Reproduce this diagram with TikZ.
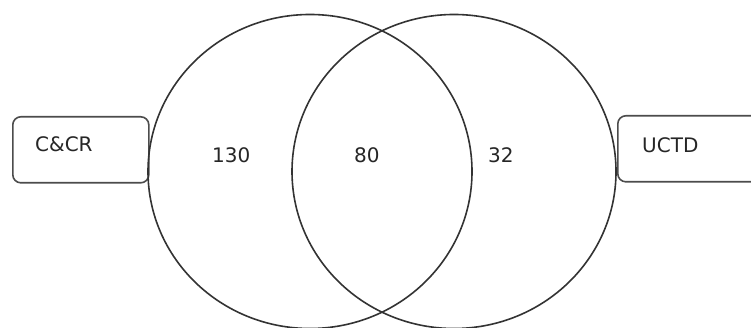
\documentclass[tikz,border=0pt]{standalone}
\usepackage{fontspec}
\setmainfont{DejaVu Sans}
\begin{document}
\begin{tikzpicture}[x=1pt,y=-1pt,
  ring/.style={draw=black!80,line width=1.6pt},
  tagbox/.style={draw=black!70,line width=1.6pt,rounded corners=8pt,minimum width=#1,minimum height=66pt,inner sep=0pt,anchor=north west},
  lbl/.style={font=\fontsize{20}{24}\selectfont,anchor=base west,inner sep=0pt,text=black!85}]
\useasboundingbox (0,0) rectangle (751,328);
\clip (0,0) rectangle (751,328);
\fill[white] (0,0) rectangle (751,328);
\node[tagbox=136pt] (leftbox) at (12,116) {};
\node[tagbox=160pt] (rightbox) at (617,115) {};
\draw[ring] (310,171.5) ellipse [x radius=162, y radius=157];
\draw[ring] (454,171.5) ellipse [x radius=162, y radius=157];
\node[lbl] (ccr) at (35,152) {C\&CR};
\node[lbl] (uctd) at (642,153) {UCTD};
\node[lbl] (n130) at (212,163) {130};
\node[lbl] (n80) at (354,163) {80};
\node[lbl] (n32) at (488,163) {32};
\end{tikzpicture}
\end{document}
